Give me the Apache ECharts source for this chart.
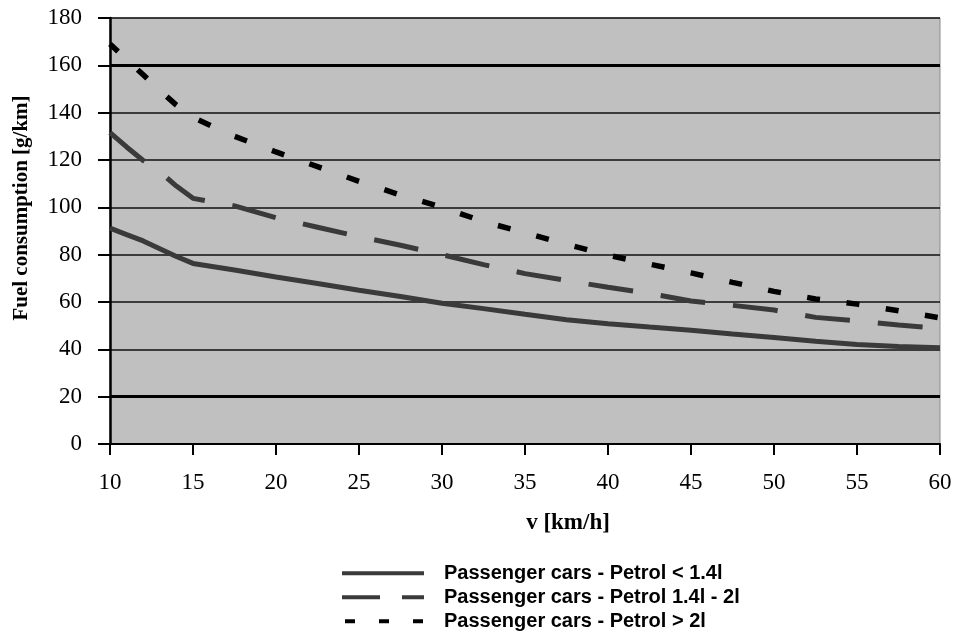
<!DOCTYPE html>
<html>
<head>
<meta charset="utf-8">
<script src="https://cdn.jsdelivr.net/npm/echarts@6/dist/echarts.min.js"></script>
<style>
html,body{margin:0;padding:0;background:#fff;}
#chart{width:956px;height:633px;}
</style>
</head>
<body>
<div id="chart"></div>
<script>
// Speed values (km/h) at which the curves were read
const speeds = [10, 11, 12, 13, 14, 15, 17.5, 20, 22.5, 25, 27.5, 30, 32.5, 35, 37.5, 40, 42.5, 45, 47.5, 50, 52.5, 55, 57.5, 60];
// Fuel consumption [g/km]
const petrolSmall = [91.2, 88.5, 85.8, 82.5, 79.2, 76.3, 73.5, 70.6, 67.8, 65.0, 62.3, 59.5, 57.2, 54.8, 52.5, 50.8, 49.4, 48.1, 46.5, 45.0, 43.4, 42.0, 41.2, 40.7];
const petrolMid   = [131.6, 125.5, 119.8, 115.0, 109.0, 103.8, 100.6, 95.6, 91.6, 87.6, 84.0, 80.0, 75.8, 72.0, 69.1, 66.2, 63.6, 60.4, 58.6, 56.6, 53.5, 52.0, 50.3, 48.8];
const petrolLarge = [169.0, 162.5, 156.0, 149.4, 143.2, 138.0, 130.0, 123.4, 117.2, 111.0, 105.2, 100.0, 94.0, 89.2, 84.4, 79.8, 76.0, 72.3, 68.3, 64.5, 61.3, 59.1, 56.3, 53.3];
const seriesNames = ['Passenger cars - Petrol < 1.4l', 'Passenger cars - Petrol 1.4l - 2l', 'Passenger cars - Petrol > 2l'];
const boldGridValues = [160, 20];

const pair = (xs, ys) => xs.map((x, i) => [x, ys[i]]);
const serif = '"Liberation Serif", "Times New Roman", serif';
const sans = '"Liberation Sans", Arial, sans-serif';
const hiddenSymbol = {opacity: 0, color: 'transparent', borderWidth: 0};

const chart = echarts.init(document.getElementById('chart'), null, {renderer: 'canvas'});
chart.setOption({
  animation: false,
  backgroundColor: '#ffffff',
  grid: {
    left: 110, right: 16, top: 18, bottom: 189,
    show: true, backgroundColor: '#c0c0c0', borderColor: '#8c8c8c', borderWidth: 1
  },
  legend: {
    orient: 'vertical',
    left: 340, top: 563, padding: 0,
    itemWidth: 82, itemHeight: 12, itemGap: 3.5,
    itemStyle: hiddenSymbol,
    textStyle: {fontFamily: sans, fontWeight: 'bold', fontSize: 20, color: '#000', lineHeight: 20.5, padding: [0, 0, 0, 15]},
    data: [
      {name: seriesNames[0], itemStyle: hiddenSymbol, lineStyle: {color: '#3a3a3a', width: 4, type: 'solid'}},
      {name: seriesNames[1], itemStyle: hiddenSymbol, lineStyle: {color: '#3a3a3a', width: 4, type: [38, 22]}},
      {name: seriesNames[2], itemStyle: hiddenSymbol, lineStyle: {color: '#000', width: 4, type: [10, 24], dashOffset: -3}}
    ]
  },
  xAxis: {
    type: 'value', min: 10, max: 60, interval: 5,
    name: 'v [km/h]', nameLocation: 'middle', nameGap: 68,
    nameTextStyle: {fontFamily: serif, fontWeight: 'bold', fontSize: 23, color: '#000', padding: [0, 0, 0, 86]},
    axisLine: {show: true, onZero: false, lineStyle: {color: '#000', width: 2}},
    axisTick: {show: true, inside: false, length: 11, lineStyle: {color: '#000', width: 2}},
    axisLabel: {fontFamily: serif, fontSize: 23, color: '#000', margin: 27},
    splitLine: {show: false}
  },
  yAxis: {
    type: 'value', min: 0, max: 180, interval: 20,
    name: 'Fuel consumption [g/km]', nameLocation: 'middle', nameRotate: 90, nameGap: 78,
    nameTextStyle: {fontFamily: serif, fontWeight: 'bold', fontSize: 21, color: '#000', padding: [0, 0, 0, 46]},
    axisLine: {show: true, lineStyle: {color: '#000', width: 2.5}},
    axisTick: {show: true, inside: false, length: 12, lineStyle: {color: '#000', width: 2}},
    axisLabel: {fontFamily: serif, fontSize: 23, color: '#000', margin: 28},
    splitLine: {show: true, lineStyle: {color: '#111', width: 1.5}}
  },
  series: [
    {
      name: seriesNames[0], type: 'line', data: pair(speeds, petrolSmall),
      symbol: 'none', smooth: false, z: 3,
      lineStyle: {color: '#3a3a3a', width: 5, type: 'solid'},
      itemStyle: {color: '#3a3a3a'},
      markLine: {
        silent: true, symbol: ['none', 'none'], label: {show: false}, animation: false,
        lineStyle: {color: '#000', width: 3, type: 'solid'},
        data: boldGridValues.map(v => ({yAxis: v}))
      }
    },
    {
      name: seriesNames[1], type: 'line', data: pair(speeds, petrolMid),
      symbol: 'none', smooth: false, z: 3,
      lineStyle: {color: '#3a3a3a', width: 5, type: [45, 28], dashOffset: 0},
      itemStyle: {color: '#3a3a3a'}
    },
    {
      name: seriesNames[2], type: 'line', data: pair(speeds, petrolLarge),
      symbol: 'none', smooth: false, z: 4,
      lineStyle: {color: '#000', width: 5.5, type: [13, 26.7], dashOffset: 2},
      itemStyle: {color: '#000'}
    }
  ]
});
</script>
</body>
</html>
